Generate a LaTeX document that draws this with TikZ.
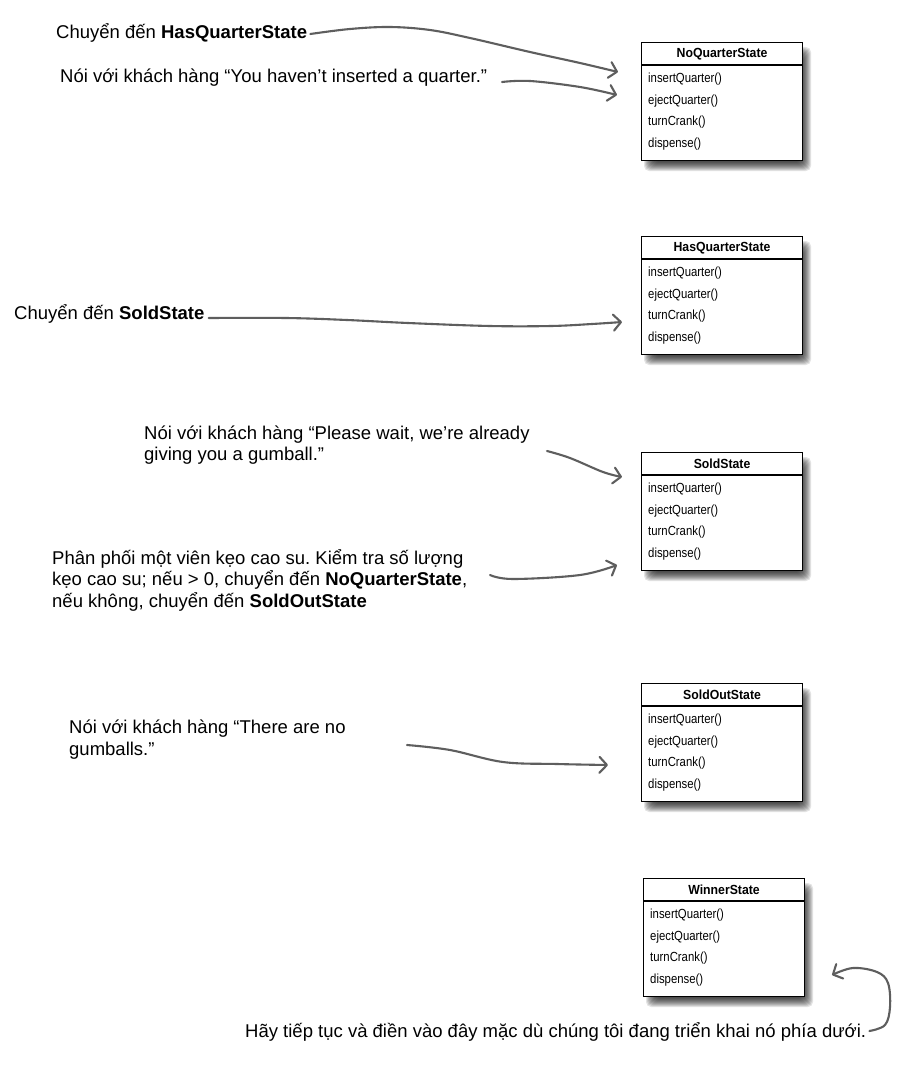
\documentclass[tikz,border=0pt]{standalone}
\usepackage{fontspec}
\setmainfont{Liberation Sans}
\newfontfamily\boxfont[FakeStretch=0.86]{Liberation Sans}
\newfontfamily\boxtitlefont[FakeStretch=0.93]{Liberation Sans}
\usetikzlibrary{arrows.meta}
\definecolor{handgray}{HTML}{5E5E5E}
\frenchspacing
\tikzset{
  note/.style={inner sep=0pt, anchor=base west, align=left, font=\fontsize{18.5}{21.5}\selectfont},
  hand/.style={draw=handgray, line width=2.1pt, line cap=round, line join=round,
    -{Straight Barb[length=7.5pt,width=16pt,round]}},
  umlbox/.style={draw=black, line width=1.1pt, fill=white, minimum width=161pt,
    minimum height=118pt, inner sep=0pt, anchor=north west},
  btitle/.style={font=\boxtitlefont\bfseries\fontsize{13.2}{15}\selectfont, inner sep=0pt},
  bmeth/.style={font=\boxfont\fontsize{13.2}{15}\selectfont, inner sep=0pt, anchor=west},
}
\newcommand\statebox[4]{%
  \foreach \e in {-5,...,4}{%
    \fill[black, opacity=0.11, rounded corners=5pt]
      (#2+7-\e, #3+9-\e) rectangle (#2+166+\e, #3+125+\e);}
  \node[umlbox] (#1) at (#2,#3) {};
  \draw[line width=1.1pt] ([yshift=-23pt]#1.north west) -- ([yshift=-23pt]#1.north east);
  \node[btitle] (#1-t) at ([yshift=-12pt]#1.north) {#4};
  \node[bmeth] (#1-a) at ([xshift=7pt,yshift=-37pt]#1.north west) {insertQuarter()};
  \node[bmeth] (#1-b) at ([xshift=7pt,yshift=-59pt]#1.north west) {ejectQuarter()};
  \node[bmeth] (#1-c) at ([xshift=7pt,yshift=-80pt]#1.north west) {turnCrank()};
  \node[bmeth] (#1-d) at ([xshift=7pt,yshift=-102pt]#1.north west) {dispense()};
}
\begin{document}
\begin{tikzpicture}[x=1pt,y=-1pt]
\fill[white] (0,0) rectangle (901,1065);
\useasboundingbox (0,0) rectangle (901,1065);

% state boxes
\statebox{noq}{641}{42}{NoQuarterState}
\statebox{hasq}{641}{236}{HasQuarterState}
\statebox{sold}{641}{452}{SoldState}
\statebox{soldout}{641}{683}{SoldOutState}
\statebox{winner}{643}{878}{WinnerState}

% notes (multi-line nodes: base = last line)
\node[note] (t1) at (56,38) {Chuyển đến \textbf{HasQuarterState}};
\node[note] (t2) at (60,82) {Nói với khách hàng “You haven’t inserted a quarter.”};
\node[note] (t3) at (14,319) {Chuyển đến \textbf{SoldState}};
\node[note] (t4) at (144,460.5) {Nói với khách hàng “Please wait, we’re already\\giving you a gumball.”};
\node[note] (t5) at (52,607) {Phân phối một viên kẹo cao su. Kiểm tra số lượng\\kẹo cao su; nếu > 0, chuyển đến \textbf{NoQuarterState},\\nếu không, chuyển đến \textbf{SoldOutState}};
\node[note] (t6) at (69,755) {Nói với khách hàng “There are no\\gumballs.”};
\node[note] (t7) at (245,1037) {Hãy tiếp tục và điền vào đây mặc dù chúng tôi đang triển khai nó phía dưới.};

% arrow end points
\coordinate (e1) at (618,72);
\coordinate (e2) at (617,95);
\coordinate (e3) at (622,322);
\coordinate (e4) at (622,477);
\coordinate (e5) at (617,565);
\coordinate (e6) at (608,765);
\coordinate (e7) at (832,975);

% hand-drawn connectors
\draw[hand] plot[smooth, tension=0.6] coordinates {([xshift=3pt,yshift=4pt]t1.base east) (350,29) (390,27) (430,30) (470,38) (530,52) (580,63) (e1)};
\draw[hand] plot[smooth, tension=0.6] coordinates {(502,82) (530,81) (580,87) (e2)};
\draw[hand] plot[smooth, tension=0.6] coordinates {([xshift=4pt,yshift=1pt]t3.base east) (286,318) (347,320) (408,323) (490,326) (551,326) (592,324) (e3)};
\draw[hand] plot[smooth, tension=0.6] coordinates {(547,451) (570,458) (603,472) (e4)};
\draw[hand] plot[smooth, tension=0.6] coordinates {(490,575) (513,579) (580,575) (e5)};
\draw[hand] plot[smooth, tension=0.6] coordinates {(407,745) (450,750) (503,762) (557,764) (e6)};
\draw[hand] plot[smooth, tension=0.6] coordinates {([xshift=3pt,yshift=6pt]t7.base east) (885,1025) (890,1007) (888,983) (877,972) (853,968) (e7)};
\end{tikzpicture}
\end{document}
